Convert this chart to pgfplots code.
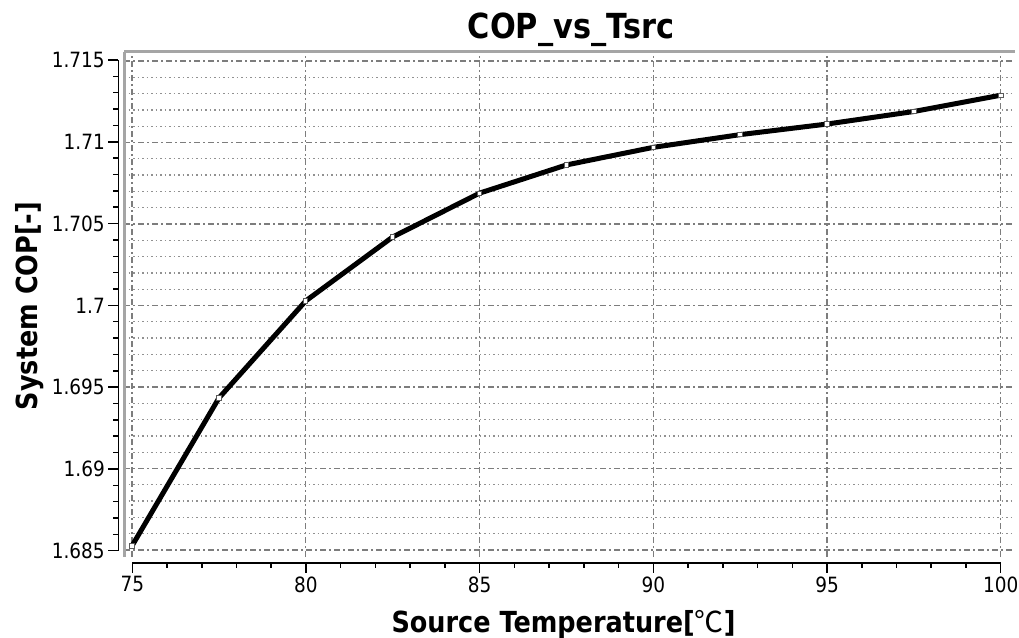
\documentclass[border=0pt]{standalone}
\usepackage{fontspec}
\setmainfont[FakeStretch=0.88]{DejaVu Sans}
\newfontfamily\cjk{Noto Sans CJK SC}
\usepackage{pgfplots}
\pgfplotsset{compat=1.18}
\definecolor{framegray}{RGB}{165,165,165}
\definecolor{gridgray}{RGB}{125,125,125}
\definecolor{minorgray}{RGB}{145,145,145}
\definecolor{markgray}{RGB}{90,90,90}
\begin{document}
\begin{tikzpicture}
\path[use as bounding box] (0pt,0pt) rectangle (1019pt,637pt);
% grid, frame and data
\begin{axis}[
  at={(124pt,80pt)}, anchor=south west, scale only axis,
  width=891pt, height=505pt,
  xmin=74.77, xmax=100.41, ymin=1.68457, ymax=1.71555,
  axis x line*=top, axis y line*=left,
  axis line style={draw=framegray, line width=3pt},
  xtick={75,80,85,90,95,100},
  ytick={1.685,1.69,1.695,1.7,1.705,1.71,1.715},
  minor y tick num=4,
  xticklabels={}, yticklabels={},
  major tick length=0pt, minor tick length=0pt,
  xmajorgrids, ymajorgrids, yminorgrids,
  major grid style={gridgray, line width=1.3pt, dash pattern=on 6pt off 3pt on 2pt off 3pt},
  minor grid style={minorgray, line width=1.3pt, dash pattern=on 1.5pt off 3pt},
]
\addplot[black, line width=5pt, mark=square*, mark size=2.2pt,
  mark options={fill=white, draw=markgray, line width=0.9pt, solid}]
coordinates {
(75,1.68525) (77.5,1.69432) (80,1.70028) (82.5,1.7042) (85,1.70689)
(87.5,1.70862) (90,1.7097) (92.5,1.71048) (95,1.71113) (97.5,1.7119) (100,1.7129)
};
\end{axis}
% axis lines, ticks and tick labels
\begin{axis}[
  at={(132.3pt,86.3pt)}, anchor=south west, scale only axis,
  width=868.4pt, height=490.7pt,
  xmin=75, xmax=100, ymin=1.685, ymax=1.715,
  axis x line*=bottom, axis y line*=left,
  axis x line shift=12.3pt, axis y line shift=14pt,
  axis line style={black, line width=1.5pt},
  tick align=outside, major tick length=10pt, minor tick length=5pt,
  every tick/.style={black, line width=1.5pt},
  xtick={75,80,85,90,95,100}, minor x tick num=4,
  ytick={1.685,1.69,1.695,1.7,1.705,1.71,1.715}, minor y tick num=4,
  xticklabels={75,80,85,90,95,100},
  yticklabels={1.685,1.69,1.695,1.7,1.705,1.71,1.715},
  /pgf/number format/assume math mode=true,
  tick label style={font=\fontsize{21}{25}\selectfont, text=black},
]
\end{axis}
\node[anchor=base, font=\fontsize{34.5}{40}\selectfont\bfseries] at (571pt,598pt) {COP\_vs\_Tsrc};
\node[anchor=base, font=\fontsize{29}{34}\selectfont\bfseries] at (563.5pt,5pt) {Source Temperature[{\cjk\mdseries ℃}]};
\node[anchor=base, rotate=90, font=\fontsize{29}{34}\selectfont\bfseries] at (37pt,331pt) {System COP[-]};
\end{tikzpicture}
\end{document}
